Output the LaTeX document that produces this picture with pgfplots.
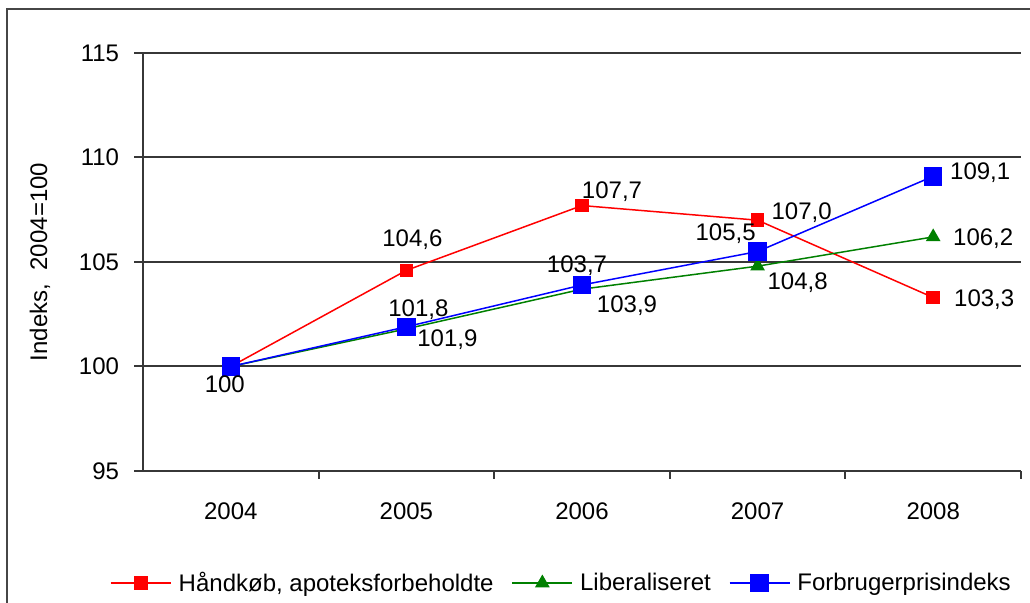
\documentclass[border=0pt]{standalone}
\usepackage{fontspec}
\setmainfont{Liberation Sans}
\usepackage{pgfplots}
\usepackage{pgfplotstable}
\pgfplotsset{compat=1.18}

\pgfplotstableread{
x y lab dx dy
2004 100 {} 0 0
2005 104.6 104,6 3 15.5
2006 107.7 107,7 15 7
2007 107.0 107,0 22 4
2008 103.3 103,3 25.5 -1.25
}\redtab
\pgfplotstableread{
x y lab dx dy
2004 100 {} 0 0
2005 101.8 101,8 6 9.5
2006 103.7 103,7 -2.5 12
2007 104.8 104,8 20 -8
2008 106.2 106,2 25 -0.75
}\greentab
\pgfplotstableread{
x y lab dx dy
2004 100 100 -3 -8.75
2005 101.9 101,9 20.5 -6.5
2006 103.9 103,9 22.5 -10.5
2007 105.5 105,5 -16 8.75
2008 109.1 109,1 23.5 2
}\bluetab

\definecolor{gridc}{RGB}{55,55,55}
\definecolor{frm}{RGB}{70,70,70}

\begin{document}
\begin{tikzpicture}
\path[use as bounding box] (0,0) rectangle (515pt,301.5pt);
\draw[line width=1pt, frm] (3.5pt,-20pt) -- (3.5pt,297pt) -- (540pt,297pt);
\node[rotate=90, font=\fontsize{12}{14}\selectfont] at (20pt,170.5pt) {Indeks,\ \ 2004=100};
\begin{axis}[
  at={(71.5pt,66pt)}, anchor=south west,
  scale only axis, width=439pt, height=209pt,
  xmin=2003.5, xmax=2008.5, ymin=95, ymax=115,
  axis x line*=bottom, axis y line*=left,
  axis line style={-, line width=1pt, gridc},
  xtick={2004,2005,2006,2007,2008},
  xticklabels={2004,2005,2006,2007,2008},
  minor xtick={2004.5,2005.5,2006.5,2007.5,2008.5},
  ytick={95,100,105,110,115},
  tick align=outside,
  major x tick style={draw=none},
  minor x tick style={line width=1pt, gridc},
  minor tick length=4pt,
  y tick style={line width=1pt, gridc},
  major tick length=4.5pt,
  ymajorgrids=true,
  major grid style={line width=1pt, gridc},
  font=\fontsize{12}{14}\selectfont,
  tick label style={font=\fontsize{12}{14}\selectfont},
  /pgf/number format/assume math mode=true,
  /pgf/number format/1000 sep={},
  xticklabel style={yshift=-8pt},
  yticklabel style={xshift=-4pt},
  clip=false,
  legend columns=3,
  legend style={at={(0.4778,-0.268)}, anchor=center, draw=none, fill=none,
    font=\fontsize{12}{14}\selectfont,
    /tikz/every odd column/.append style={column sep=1.5pt},
    /tikz/every even column/.append style={column sep=7pt},
    nodes={inner sep=2pt}},
  legend image code/.code={\draw[mark repeat=2,mark phase=2] plot coordinates {(0pt,0pt) (15pt,0pt) (30pt,0pt)};},
]
\addplot[red, line width=0.75pt, mark=square*, mark size=3pt, mark options={solid},
  nodes near coords, point meta=explicit symbolic,
  visualization depends on={\thisrow{dx} \as \dx},
  visualization depends on={\thisrow{dy} \as \dy},
  every node near coord/.append style={anchor=center, xshift=\dx pt, yshift=\dy pt, text=black, font=\fontsize{12}{14}\selectfont}]
  table[x=x, y=y, meta=lab] {\redtab};
\addlegendentry{Håndkøb, apoteksforbeholdte}
\addplot[color={rgb,255:red,0;green,128;blue,0}, line width=0.75pt, mark=triangle*, mark size=3.5pt, mark options={solid},
  nodes near coords, point meta=explicit symbolic,
  visualization depends on={\thisrow{dx} \as \dx},
  visualization depends on={\thisrow{dy} \as \dy},
  every node near coord/.append style={anchor=center, xshift=\dx pt, yshift=\dy pt, text=black, font=\fontsize{12}{14}\selectfont}]
  table[x=x, y=y, meta=lab] {\greentab};
\addlegendentry{Liberaliseret}
\addplot[blue, line width=0.75pt, mark=square*, mark size=4.25pt, mark options={solid},
  nodes near coords, point meta=explicit symbolic,
  visualization depends on={\thisrow{dx} \as \dx},
  visualization depends on={\thisrow{dy} \as \dy},
  every node near coord/.append style={anchor=center, xshift=\dx pt, yshift=\dy pt, text=black, font=\fontsize{12}{14}\selectfont}]
  table[x=x, y=y, meta=lab] {\bluetab};
\addlegendentry{Forbrugerprisindeks}
\end{axis}
\end{tikzpicture}
\end{document}
